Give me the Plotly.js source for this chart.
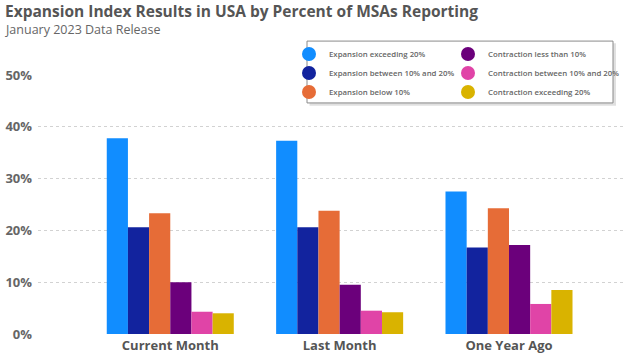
<!DOCTYPE html>
<html>
<head>
<meta charset="utf-8">
<script src="https://cdn.plot.ly/plotly-3.0.1.min.js"></script>
<style>html,body{margin:0;padding:0;background:#fff;}#chart{width:624px;height:356px;}</style>
</head>
<body>
<div id="chart"></div>
<script>
const categories = ["Current Month", "Last Month", "One Year Ago"];
const seriesNames = [
  "Expansion exceeding 20%",
  "Expansion between 10% and 20%",
  "Expansion below 10%",
  "Contraction less than 10%",
  "Contraction between 10% and 20%",
  "Contraction exceeding 20%"
];
const seriesColors = ["#118DFF", "#12239E", "#E66C37", "#6B007B", "#E044A7", "#D9B300"];
const expExceeding20 = [0.378, 0.373, 0.275];
const expBetween10and20 = [0.206, 0.206, 0.167];
const expBelow10 = [0.233, 0.238, 0.243];
const conLessThan10 = [0.100, 0.095, 0.172];
const conBetween10and20 = [0.043, 0.045, 0.058];
const conExceeding20 = [0.040, 0.042, 0.085];
const yTickVals = [0, 0.1, 0.2, 0.3, 0.4, 0.5];
const yTickText = ["0%", "10%", "20%", "30%", "40%", "50%"];

const values = [expExceeding20, expBetween10and20, expBelow10, conLessThan10, conBetween10and20, conExceeding20];
const font = "Open Sans, Noto Sans, sans-serif";

const traces = values.map((v, i) => ({
  type: "bar",
  x: categories,
  y: v,
  name: seriesNames[i],
  marker: {color: seriesColors[i], line: {width: 0}},
  showlegend: false,
  hoverinfo: "skip"
}));
// legend-only entries with circle symbols (first three in column 1, last three in column 2)
values.forEach((v, i) => {
  traces.push({
    type: "scatter",
    mode: "markers",
    x: [null], y: [null],
    name: seriesNames[i],
    legend: i < 3 ? "legend" : "legend2",
    marker: {color: seriesColors[i], size: 14, symbol: "circle"},
    showlegend: true,
    hoverinfo: "skip"
  });
});

const L = 38, T = 74.7, B = 334.3, W = 624 - L, H = B - T;
const py = px => 1 + (T - px) / H;
const pxx = px => (px - L) / W;

const legendBase = {
  orientation: "v",
  xref: "container", yref: "container",
  xanchor: "left", yanchor: "top",
  bgcolor: "rgba(0,0,0,0)",
  borderwidth: 0,
  font: {family: font, size: 7.8, color: "#666", weight: 600},
  itemsizing: "trace",
  tracegroupgap: 0
};

const layout = {
  width: 624, height: 356,
  margin: {l: L, r: 0, t: T, b: 356 - B, pad: 0, autoexpand: false},
  paper_bgcolor: "#fff", plot_bgcolor: "#fff",
  font: {family: font, color: "#666"},
  barmode: "group",
  bargap: 0.25,
  bargroupgap: 0,
  showlegend: true,
  xaxis: {
    type: "category",
    range: [-0.781, 2.679],
    showgrid: false, zeroline: false, showline: false,
    ticks: "",
    tickfont: {family: font, size: 13, color: "#555", weight: 700},
    ticklabelstandoff: 2,
    automargin: false,
    fixedrange: true
  },
  yaxis: {
    range: [0, 0.5],
    tickvals: yTickVals,
    ticktext: yTickText,
    showgrid: true,
    gridcolor: "#d2d2d2",
    griddash: "3px,3px",
    gridwidth: 1,
    zeroline: false,
    showline: false,
    ticks: "",
    tickfont: {family: font, size: 13, color: "#666", weight: 700},
    ticklabelstandoff: 5,
    automargin: false,
    fixedrange: true
  },
  legend: Object.assign({}, legendBase, {x: 289 / 624, y: 1 - 39.5 / 356}),
  legend2: Object.assign({}, legendBase, {x: 448 / 624, y: 1 - 39.5 / 356}),
  shapes: [
    {type: "rect", xref: "paper", yref: "paper", layer: "above",
     x0: pxx(309.5), x1: pxx(616), y0: py(43), y1: py(105.5),
     fillcolor: "rgba(0,0,0,0.12)", line: {width: 0}},
    {type: "rect", xref: "paper", yref: "paper", layer: "above",
     x0: pxx(307), x1: pxx(613), y0: py(40.7), y1: py(102.7),
     fillcolor: "#fff", line: {color: "#8a8a8a", width: 1}}
  ],
  annotations: [
    {xref: "paper", yref: "paper", x: pxx(3), y: py(10.5), xanchor: "left", yanchor: "middle",
     text: "Expansion Index Results in USA by Percent of MSAs Reporting", showarrow: false,
     font: {family: font, size: 15.5, color: "#555", weight: 700}},
    {xref: "paper", yref: "paper", x: pxx(3), y: py(29.5), xanchor: "left", yanchor: "middle",
     text: "January 2023 Data Release", showarrow: false,
     font: {family: font, size: 12.5, color: "#666"}}
  ]
};

Plotly.newPlot("chart", traces, layout, {displayModeBar: false, staticPlot: true});
</script>
</body>
</html>
